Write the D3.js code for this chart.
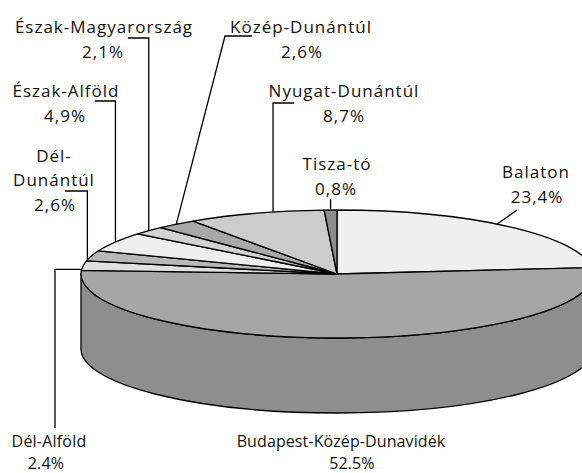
<!DOCTYPE html>
<html>
<head>
<meta charset="utf-8">
<script src="https://cdn.jsdelivr.net/npm/d3@7"></script>
<style>
  html, body { margin: 0; padding: 0; background: #fff; }
  text { font-family: "Open Sans", "Noto Sans", sans-serif; fill: #111; }
</style>
</head>
<body>
<svg id="chart" width="582" height="473"></svg>
<script>
// ---- data ----
const categories = ["Balaton", "Budapest-Közép-Dunavidék", "Dél-Alföld", "Dél-Dunántúl",
  "Észak-Alföld", "Észak-Magyarország", "Közép-Dunántúl", "Nyugat-Dunántúl", "Tisza-tó"];
const values = [23.4, 52.5, 2.4, 2.6, 4.9, 2.1, 2.6, 8.7, 0.8];
const valueLabels = ["23,4%", "52.5%", "2.4%", "2,6%", "4,9%", "2,1%", "2,6%", "8,7%", "0,8%"];

// ---- styles ----
const topColors = ["#efefef", "#a6a6a6", "#e0e0e0", "#b8b8b8", "#eeeeee", "#d2d2d2", "#a8a8a8", "#cccccc", "#8c8c8c"];
const sideColors = ["#d6d6d6", "#8e8e8e", "#c6c6c6", "#a0a0a0", "#d4d4d4", "#b8b8b8", "#909090", "#b2b2b2", "#777777"];

// ---- geometry ----
const cx = 337, cy = 274, rx = 256, ry = 64, depth = 75;
const pt = (a, dy = 0) => [cx + rx * Math.sin(a), cy - ry * Math.cos(a) + dy];

const svg = d3.select("#chart");
const arcs = d3.pie().sort(null).startAngle(0).endAngle(2 * Math.PI)(values);

// side walls (front half: angles between PI/2 and 3PI/2)
const sideG = svg.append("g");
arcs.forEach((d, i) => {
  const a0 = Math.max(d.startAngle, Math.PI / 2), a1 = Math.min(d.endAngle, 3 * Math.PI / 2);
  if (a1 <= a0) return;
  const p0 = pt(a0), p1 = pt(a1), q1 = pt(a1, depth), q0 = pt(a0, depth);
  const path = `M${p0}A${rx},${ry} 0 0 1 ${p1}L${q1}A${rx},${ry} 0 0 0 ${q0}Z`;
  sideG.append("path").attr("d", path).attr("fill", sideColors[i])
    .attr("stroke", "#000").attr("stroke-width", 1.3).attr("stroke-linejoin", "round");
});

// top face
const topG = svg.append("g");
arcs.forEach((d, i) => {
  const p0 = pt(d.startAngle), p1 = pt(d.endAngle);
  const large = (d.endAngle - d.startAngle) > Math.PI ? 1 : 0;
  const path = `M${cx},${cy}L${p0}A${rx},${ry} 0 ${large} 1 ${p1}Z`;
  topG.append("path").attr("d", path).attr("fill", topColors[i])
    .attr("stroke", "#000").attr("stroke-width", 1.3).attr("stroke-linejoin", "round");
});

// ---- labels (layout) ----
const layout = [
  { x: 536, y: 178, px: 537, fs: 17, ls: 1, leaderPos: 0.46, leader: (e) => [[517, 210], e] },
  { x: 341, y: 447, px: 352, fs: 16, ls: 0.1, leader: null },
  { x: 49, y: 447, px: 46, fs: 16, ls: 0.2, leaderPos: 0.1, leader: (e) => [[55, 428], [55, e[1]], e] },
  { x: 54, y: 162, px: 55, fs: 17, ls: 1, wrap: true, leaderPos: 0.1, leader: (e) => [[65, 191], [e[0], 191], e] },
  { x: 66, y: 97, px: 65, fs: 17, ls: 1, leaderPos: 0.5, leader: (e) => [[95, 101], [e[0], 101], e] },
  { x: 104, y: 33, px: 103, fs: 17, ls: 1, leaderPos: 0.5, leader: (e) => [[128, 38], [e[0], 38], e] },
  { x: 301, y: 33, px: 302, fs: 17, ls: 1, leaderPos: 0.5, leader: (e) => [[252, 36], [225, 36], e] },
  { x: 344, y: 97, px: 344, fs: 17, ls: 1, leaderPos: 0.63, leader: (e) => [[294, 103], [e[0], 103], e] },
  { x: 337, y: 170, px: 336, fs: 17, ls: 1, leaderPos: 0.5, leader: (e) => [[e[0], 199], e] }
];
const lineH = 24.5;

const leadG = svg.append("g");
const labG = svg.append("g");
arcs.forEach((d, i) => {
  const L = layout[i];
  if (L.leader) {
    const a = d.startAngle + (d.endAngle - d.startAngle) * L.leaderPos;
    const e = pt(a);
    leadG.append("path").attr("d", d3.line()(L.leader(e)))
      .attr("fill", "none").attr("stroke", "#000").attr("stroke-width", 1.3);
  }
  const name = categories[i];
  const lines = L.wrap ? [name.slice(0, name.indexOf("-") + 1), name.slice(name.indexOf("-") + 1)] : [name];
  lines.forEach((t, k) => {
    labG.append("text").attr("x", L.x).attr("y", L.y + k * (L.wrap ? 23.5 : lineH))
      .attr("text-anchor", "middle").attr("font-size", L.fs).attr("letter-spacing", L.ls).text(t);
  });
  const py = Math.min(L.y + lines.length * (L.wrap ? 24.5 : lineH), 469);
  labG.append("text").attr("x", L.px).attr("y", py)
    .attr("text-anchor", "middle").attr("font-size", L.fs).attr("letter-spacing", L.ls).text(valueLabels[i]);
});
</script>
</body>
</html>
